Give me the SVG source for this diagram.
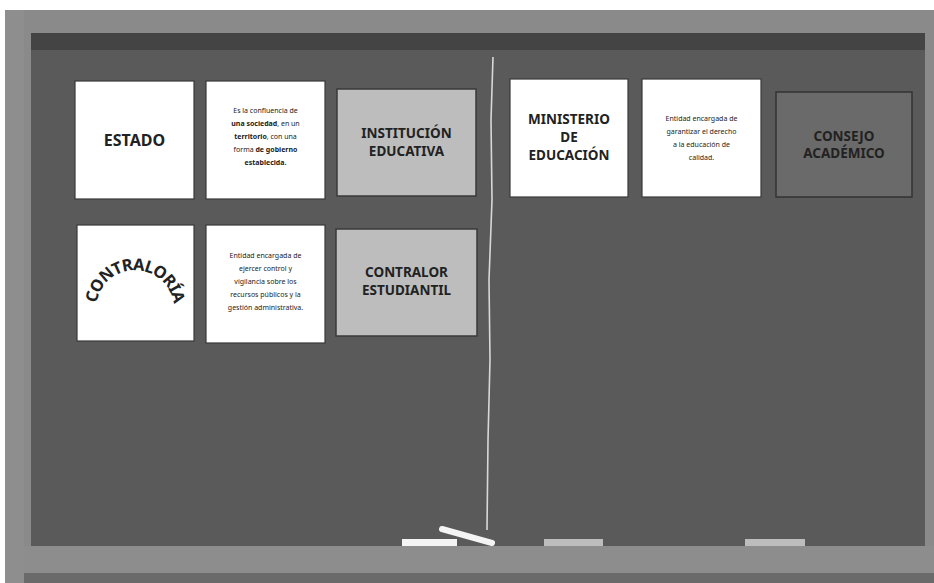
<svg xmlns="http://www.w3.org/2000/svg" width="934" height="583" viewBox="0 0 934 583">
<style>
.card{fill:#fff;stroke:#3a3a3a;stroke-width:1.2}
.lg{fill:#bdbdbd;stroke:#3a3a3a;stroke-width:1.5}
.dk{fill:#6a6a6a;stroke:#333;stroke-width:1.5}
.t{font-family:"Noto Sans","Liberation Sans",sans-serif;font-weight:700;fill:#222;text-anchor:middle}
.big{font-size:16px}
.mid{font-size:13.5px}
.s{font-family:"Noto Sans","Liberation Sans",sans-serif;font-size:7px;fill:#222;text-anchor:middle}
</style>
<rect x="0" y="0" width="934" height="583" fill="#fff"/>
<rect x="5" y="10" width="929" height="573" fill="#8a8a8a"/>
<rect x="5" y="10" width="19" height="573" fill="#8e8e8e"/>
<rect x="31" y="33" width="894" height="513" fill="#5a5a5a"/>
<rect x="31" y="33" width="894" height="17" fill="#444"/>
<rect x="24" y="546" width="910" height="27" fill="#8d8d8d"/>
<rect x="24" y="573" width="910" height="10" fill="#6a6a6a"/>
<g id="connectors">
<path d="M493 57 L491 120 L492 200 L489 280 L490 360 L488 440 L487 530" fill="none" stroke="#d8d8d8" stroke-width="1.6"/>
</g>
<g id="chalk">
<rect x="402" y="539" width="55" height="7" fill="#f4f4f4"/>
<line x1="442" y1="529" x2="492" y2="543" stroke="#f4f4f4" stroke-width="6" stroke-linecap="round"/>
<rect x="544" y="539" width="59" height="7" fill="#bdbdbd"/>
<rect x="745" y="539" width="60" height="7" fill="#bdbdbd"/>
</g>
<g id="estado">
<rect class="card" x="75" y="81" width="119" height="118"/>
<text class="t big" x="134.5" y="146">ESTADO</text>
</g>
<g id="desc-estado">
<rect class="card" x="206" y="81" width="119" height="118"/>
<text class="s" x="265.5" y="113">Es la confluencia de</text>
<text class="s" x="265.5" y="126"><tspan font-weight="700">una sociedad</tspan>, en un</text>
<text class="s" x="265.5" y="139"><tspan font-weight="700">territorio</tspan>, con una</text>
<text class="s" x="265.5" y="152">forma <tspan font-weight="700">de gobierno</tspan></text>
<text class="s" x="265.5" y="165" font-weight="700">establecida.</text>
</g>
<g id="institucion">
<rect class="lg" x="337" y="89" width="139" height="107"/>
<text class="t mid" x="406.5" y="138">INSTITUCIÓN</text>
<text class="t mid" x="406.5" y="156">EDUCATIVA</text>
</g>
<g id="contraloria">
<rect class="card" x="77" y="225" width="117" height="116"/>
<path id="arc" d="M98.3 322.4 A39 39 0 1 1 171.7 322.4" fill="none"/>
<text class="t" font-size="16.5" font-weight="600" letter-spacing="-0.8"><textPath href="#arc" startOffset="50%">CONTRALORÍA</textPath></text>
</g>
<g id="desc-contraloria">
<rect class="card" x="206" y="225" width="119" height="118"/>
<text class="s" x="265.5" y="258">Entidad encargada de</text>
<text class="s" x="265.5" y="271">ejercer control y</text>
<text class="s" x="265.5" y="284">vigilancia sobre los</text>
<text class="s" x="265.5" y="297">recursos públicos y la</text>
<text class="s" x="265.5" y="310">gestión administrativa.</text>
</g>
<g id="contralor">
<rect class="lg" x="336" y="229" width="141" height="107"/>
<text class="t mid" x="406.5" y="277">CONTRALOR</text>
<text class="t mid" x="406.5" y="295">ESTUDIANTIL</text>
</g>
<g id="ministerio">
<rect class="card" x="510" y="79" width="118" height="118"/>
<text class="t mid" x="569" y="124">MINISTERIO</text>
<text class="t mid" x="569" y="142">DE</text>
<text class="t mid" x="569" y="160">EDUCACIÓN</text>
</g>
<g id="desc-ministerio">
<rect class="card" x="642" y="79" width="119" height="118"/>
<text class="s" x="701.5" y="121">Entidad encargada de</text>
<text class="s" x="701.5" y="134">garantizar el derecho</text>
<text class="s" x="701.5" y="147">a la educación de</text>
<text class="s" x="701.5" y="160">calidad.</text>
</g>
<g id="consejo">
<rect class="dk" x="776" y="92" width="136" height="105"/>
<text class="t mid" x="844" y="141">CONSEJO</text>
<text class="t mid" x="844" y="158">ACADÉMICO</text>
</g>
</svg>
